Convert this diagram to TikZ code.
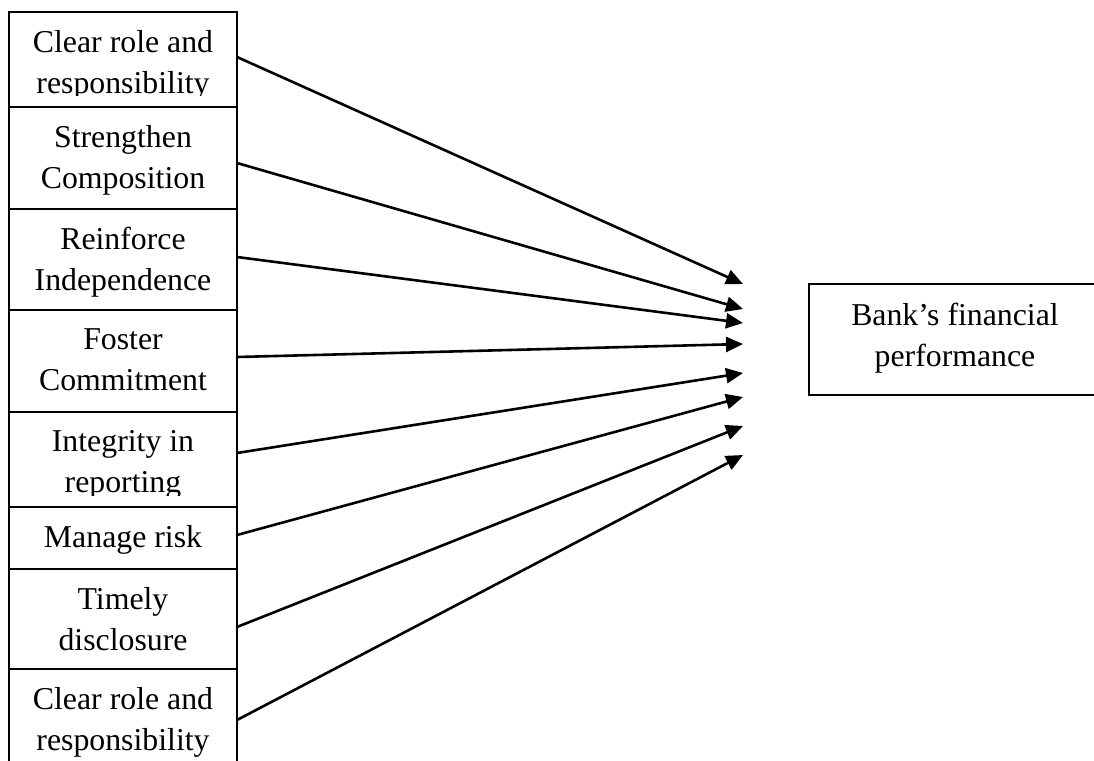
\documentclass[tikz,border=0pt]{standalone}
\usepackage{fontspec}
\setmainfont{Liberation Serif}
\usetikzlibrary{arrows.meta,positioning}
\tikzset{
  cell/.style={draw,line width=2pt,minimum width=228pt,inner sep=0pt,outer sep=0pt},
  txt/.style={anchor=north,align=center,inner sep=0pt,font=\fontsize{31.8pt}{41pt}\selectfont},
  ar/.style={-{Triangle[length=17pt,width=15pt]},line width=2.6pt}
}

\begin{document}
\begin{tikzpicture}[x=1pt,y=-1pt]
\clip (0,0) rectangle (1094,760);

% governance factors
\node[cell,minimum height=95pt] (c1) at (123,59.5) {};
\node[cell,minimum height=102pt] (c2) at (123,158) {};
\node[cell,minimum height=101pt] (c3) at (123,259.5) {};
\node[cell,minimum height=102pt] (c4) at (123,361) {};
\node[cell,minimum height=95pt] (c5) at (123,459.5) {};
\node[cell,minimum height=62pt] (c6) at (123,538) {};
\node[cell,minimum height=100pt] (c7) at (123,619) {};
\node[cell,minimum height=102pt] (c8) at (123,720) {};

\begin{scope}
\clip (c1.north west) rectangle ([yshift=12pt]c1.south east);
\node[txt] (l1) at ([yshift=-18.3pt]c1.north) {Clear role and\\responsibility};
\end{scope}
\node[txt] (l2) at ([yshift=-18.3pt]c2.north) {Strengthen\\Composition};
\node[txt] (l3) at ([yshift=-18.3pt]c3.north) {Reinforce\\Independence};
\node[txt] (l4) at ([yshift=-18.3pt]c4.north) {Foster\\Commitment};
\begin{scope}
\clip (c5.north west) rectangle ([yshift=12pt]c5.south east);
\node[txt] (l5) at ([yshift=-18.3pt]c5.north) {Integrity in\\reporting};
\end{scope}
\node[txt] (l6) at ([yshift=-18.3pt]c6.north) {Manage risk};
\node[txt] (l7) at ([yshift=-18.3pt]c7.north) {Timely\\disclosure};
\node[txt] (l8) at ([yshift=-18.3pt]c8.north) {Clear role and\\responsibility};

% outcome
\node[cell,minimum width=292pt,minimum height=111pt] (perf) at (955,339.5) {};
\node[txt] (lp) at ([yshift=-19.3pt]perf.north) {Bank’s financial\\performance};

% arrow tips
\coordinate (p1) at (743,284);
\coordinate (p2) at (743,309);
\coordinate (p3) at (743,323);
\coordinate (p4) at (743,344);
\coordinate (p5) at (743,373);
\coordinate (p6) at (743,397);
\coordinate (p7) at (743,426);
\coordinate (p8) at (743,455);

\draw[ar] ([yshift=2.5pt]c1.east)--(p1); \draw[ar] ([yshift=-5pt]c2.east)--(p2);
\draw[ar] ([yshift=2.5pt]c3.east)--(p3); \draw[ar] ([yshift=4pt]c4.east)--(p4);
\draw[ar] ([yshift=6.5pt]c5.east)--(p5); \draw[ar] ([yshift=3pt]c6.east)--(p6);
\draw[ar] ([yshift=-8pt]c7.east)--(p7); \draw[ar] (c8.east)--(p8);
\end{tikzpicture}
\end{document}
